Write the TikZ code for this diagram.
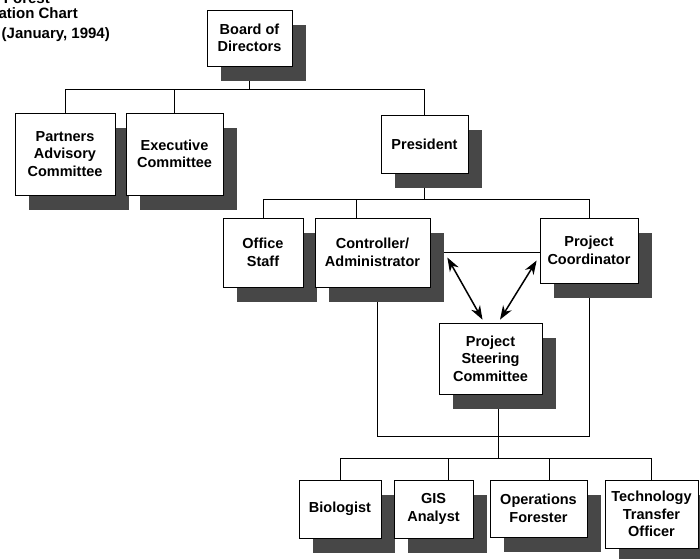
\documentclass[tikz,border=0pt]{standalone}
\usepackage{fontspec}
\setmainfont{Liberation Sans}
\usetikzlibrary{shadows,backgrounds,calc,arrows.meta}

\begin{document}
\begin{tikzpicture}[
                x=1pt, y=-1pt,
                every node/.style={font=\bfseries\fontsize{14.5}{17.5}\selectfont},
                post/.style={draw, line width=0.7pt, fill=white, align=center, inner sep=1pt,
                    drop shadow={shadow xshift=14pt, shadow yshift=-15pt, fill=black!72, opacity=1}},
                link/.style={line width=0.8pt},
                both/.style={line width=1.5pt, {Stealth[length=14pt,width=10pt]}-{Stealth[length=14pt,width=10pt]}},
                title/.style={font=\bfseries\fontsize{15}{17}\selectfont, anchor=base east, inner sep=0pt},
            ]
            \useasboundingbox (0,0) rectangle (700,558);
            \node[title] (forest) at (50,3) {Forest};
            \node[title] (chart) at (78,18) {Organization Chart};
            \node[title] (date) at (110,38) {(January, 1994)};

            \node[post, minimum width=85, minimum height=56] (board) at (249.5,38) {Board of\\Directors};
            \node[post, minimum width=100, minimum height=82] (partners) at (65,154) {Partners\\Advisory\\Committee};
            \node[post, minimum width=97, minimum height=82] (exec) at (174.5,154) {Executive\\Committee};
            \node[post, minimum width=87, minimum height=58] (president) at (424.5,144) {President};
            \node[post, minimum width=80, minimum height=69] (office) at (263,252.5) {Office\\Staff};
            \node[post, minimum width=115, minimum height=69] (ctrl) at (372.5,252.5) {Controller/\\Administrator};
            \node[post, minimum width=98, minimum height=65] (coord) at (589,250.5) {Project\\Coordinator};
            \node[post, minimum width=103, minimum height=71] (steer) at (490.5,358.5) {Project\\Steering\\Committee};
            \node[post, minimum width=82, minimum height=58] (bio) at (340,509) {Biologist};
            \node[post, minimum width=79, minimum height=58] (gis) at (433.5,509) {GIS\\Analyst};
            \node[post, minimum width=97, minimum height=57] (ops) at (538.5,508.5) {Operations\\Forester};
            \node[post, minimum width=93, minimum height=68] (tech) at (651.5,514) {Technology\\Transfer\\Officer};

            \coordinate (bus1) at (250,89);
            \coordinate (bus2) at (424,199);
            \coordinate (bus3) at (498,458);
            \coordinate (loop) at (377,436);
            \coordinate (ctrl drop) at (356,199);
            \coordinate (gis drop) at (448,458);
            \coordinate (ops drop) at (549,458);

            \begin{scope}[on background layer]
            \draw[link] (board.south) -- (board.south |- bus1);
            \draw[link] (partners.north) -- (partners.north |- bus1) -| (president.north);
            \draw[link] (exec.north) -- (exec.north |- bus1);
            \draw[link] (president.south) -- (president.south |- bus2);
            \draw[link] (office.north) -- (office.north |- bus2) -| (coord.north);
            \draw[link] (ctrl drop) -- (ctrl drop |- ctrl.north);
            \draw[link] (ctrl.east) -- (ctrl.east -| coord.west);
            \draw[link] (loop |- ctrl.south) -- (loop) -| (coord.south);
            \draw[link] (bus3 |- steer.south) -- (bus3);
            \draw[link] (bio.north) -- (bio.north |- bus3) -| (tech.north);
            \draw[link] (gis drop) -- (gis drop |- gis.north);
            \draw[link] (ops drop) -- (ops drop |- ops.north);
            \end{scope}

            \draw[both] ($(ctrl.east)+(17,5)$) -- ($(steer.north)+(-8,-3)$);
            \draw[both] ($(coord.west)+(-3,10)$) -- ($(steer.north)+(9.5,-3)$);
            \end{tikzpicture}
\end{document}
